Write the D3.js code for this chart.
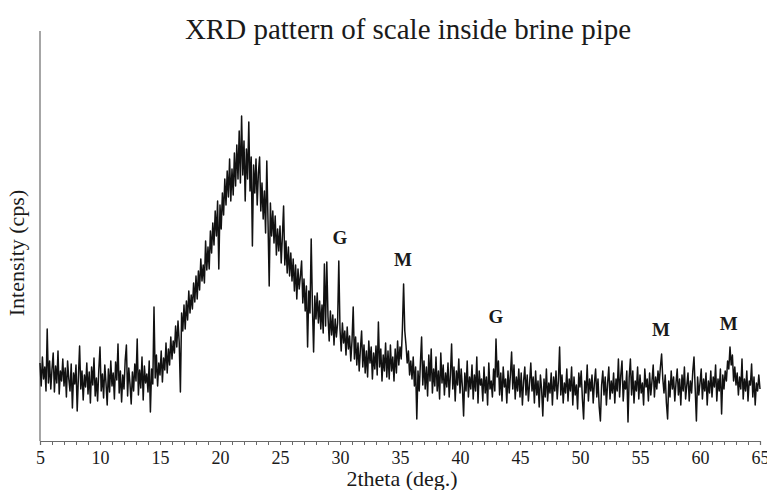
<!DOCTYPE html>
<html>
<head>
<meta charset="utf-8">
<script src="https://cdn.jsdelivr.net/npm/d3@7"></script>
<style>
  body { margin: 0; background: #fff; }
  svg { display: block; }
</style>
</head>
<body>
<svg id="chart"></svg>
<script>
// scan starts at 5 deg, 0.1 deg per reading
const startAngle = 5;
const stepAngle = 0.1;

// intensity readings (cps, arbitrary zero), 10 per degree
const intensity = [
  78, 55, 84, 62, 74, 50, 112, 58, 80, 52,
  72, 88, 49, 75, 58, 90, 47, 70, 60, 82,
  55, 73, 44, 80, 62, 50, 77, 33, 68, 57,
  76, 30, 64, 95, 52, 70, 41, 66, 54, 78,
  47, 69, 38, 74, 56, 83, 45, 63, 40, 71,
  94, 50, 67, 43, 76, 58, 36, 72, 49, 80,
  55, 68, 42, 79, 61, 97, 48, 70, 39, 66,
  52, 81, 96, 45, 73, 57, 37, 69, 50, 77,
  60, 102, 46, 71, 53, 84, 41, 75, 58, 67,
  49, 80, 29, 72, 57, 134, 63, 86, 55, 78,
  66, 90, 59, 83, 71, 98, 68, 92, 76, 104,
  82, 100, 88, 115, 94, 120, 99, 49, 128, 110,
  136, 112, 140, 121, 150, 128, 146, 132, 158, 139,
  165, 142, 170, 151, 182, 160, 176, 158, 200, 171,
  194, 172, 210, 188, 218, 196, 230, 205, 240, 172,
  236, 212, 248, 226, 262, 236, 270, 244, 282, 240,
  272, 246, 288, 255, 296, 262, 310, 258, 325, 266,
  300, 240, 292, 262, 319, 250, 284, 195, 276, 248,
  282, 236, 268, 284, 230, 258, 222, 250, 208, 280,
  220, 155, 238, 205, 230, 198, 225, 186, 212, 190,
  215, 178, 205, 235, 176, 200, 168, 194, 165, 188,
  160, 182, 150, 176, 142, 172, 152, 165, 180, 138,
  162, 130, 155, 94, 150, 128, 202, 136, 89, 145,
  122, 148, 118, 140, 112, 136, 108, 177, 115, 179,
  124, 100, 130, 106, 126, 96, 122, 104, 118, 180,
  112, 90, 118, 98, 110, 86, 114, 92, 105, 80,
  100, 134, 82, 104, 76, 98, 70, 92, 110, 74,
  96, 68, 90, 64, 100, 78, 94, 62, 88, 72,
  95, 66, 119, 74, 92, 60, 86, 70, 98, 64,
  90, 62, 96, 70, 84, 60, 92, 68, 100, 76,
  94, 82, 112, 157, 110, 96, 78, 90, 66, 80,
  62, 84, 55, 74, 22, 70, 50, 78, 104, 56,
  80, 52, 74, 45, 86, 60, 92, 48, 72, 55,
  84, 50, 70, 42, 88, 58, 76, 46, 68, 54,
  78, 44, 66, 97, 52, 74, 40, 70, 56, 82,
  48, 72, 54, 25, 68, 50, 80, 44, 64, 52,
  76, 42, 66, 50, 84, 38, 70, 56, 62, 40,
  74, 48, 64, 36, 78, 52, 60, 44, 72, 50,
  102, 64, 80, 46, 68, 40, 74, 54, 62, 38,
  70, 48, 66, 89, 52, 76, 42, 64, 50, 72,
  44, 68, 36, 60, 74, 46, 66, 40, 58, 78,
  50, 64, 38, 70, 46, 60, 34, 66, 52, 25,
  62, 44, 72, 40, 58, 48, 68, 36, 64, 50,
  70, 42, 60, 94, 46, 66, 38, 58, 48, 72,
  40, 62, 50, 74, 36, 64, 46, 56, 32, 68,
  54, 70, 42, 22, 60, 48, 76, 40, 62, 50,
  66, 38, 58, 72, 44, 62, 34, 20, 56, 70,
  46, 64, 36, 58, 74, 42, 60, 48, 68, 38,
  62, 50, 82, 44, 66, 80, 40, 60, 52, 70,
  19, 64, 82, 46, 70, 38, 60, 50, 74, 42,
  66, 48, 58, 36, 72, 54, 62, 40, 68, 46,
  60, 76, 44, 64, 52, 70, 58, 74, 87, 62,
  48, 66, 38, 22, 60, 44, 70, 52, 64, 40,
  58, 72, 46, 62, 36, 66, 50, 74, 42, 56,
  68, 40, 60, 48, 70, 84, 52, 20, 64, 46,
  58, 72, 42, 62, 50, 68, 36, 60, 48, 70,
  44, 64, 54, 76, 40, 62, 50, 72, 27, 66,
  52, 70, 60, 80, 72, 94, 76, 86, 60, 74,
  56, 68, 46, 64, 52, 82, 42, 62, 50, 70,
  40, 60, 56, 77, 44, 64, 36, 58, 50, 66,
  52
];

// phase markers: G = gypsum, M = magnetite
const peakNames = ['G', 'M', 'G', 'M', 'M'];
const peakAngles = [30.0, 35.25, 43.0, 56.75, 62.4];
const peakLabelLevels = [197, 175, 118, 105, 111];

const xTickLabels = [5, 10, 15, 20, 25, 30, 35, 40, 45, 50, 55, 60, 65];
const xMinorTicks = d3.range(5, 66, 1);

const width = 767;
const height = 490;

const svg = d3.select('#chart')
  .attr('width', width)
  .attr('height', height);

const x = d3.scaleLinear().domain([5, 65]).range([40, 760]);
const y = d3.scaleLinear().domain([0, 410]).range([441, 31]);

const serif = 'Liberation Serif, Times New Roman, serif';
const axisColor = '#6a6a6a';

const scan = intensity.map((v, i) => ({ angle: startAngle + i * stepAngle, cps: v }));

// title
svg.append('text')
  .attr('x', 408)
  .attr('y', 39)
  .attr('text-anchor', 'middle')
  .attr('font-family', serif)
  .attr('font-size', 29)
  .attr('fill', '#1a1a1a')
  .text('XRD pattern of scale inside brine pipe');

// y axis: a bare line, no ticks
svg.append('line')
  .attr('x1', x(5))
  .attr('x2', x(5))
  .attr('y1', y(410))
  .attr('y2', y(0))
  .attr('stroke', axisColor)
  .attr('stroke-width', 1.2);

svg.append('text')
  .attr('transform', `translate(24, ${ y(188) }) rotate(-90)`)
  .attr('text-anchor', 'middle')
  .attr('font-family', serif)
  .attr('font-size', 22)
  .attr('fill', '#1a1a1a')
  .text('Intensity (cps)');

// x axis: minor tick every degree, label every 5
const xAxis = d3.axisBottom(x)
  .tickValues(xMinorTicks)
  .tickSize(4)
  .tickPadding(6)
  .tickFormat((d) => xTickLabels.includes(d) ? d : '');

const gx = svg.append('g')
  .attr('transform', `translate(0, ${ y(0) })`)
  .attr('font-family', serif)
  .call(xAxis);

gx.select('.domain')
  .attr('stroke', axisColor)
  .attr('stroke-width', 1.2);

gx.selectAll('.tick line')
  .attr('stroke', axisColor);

gx.selectAll('.tick text')
  .attr('font-family', serif)
  .attr('font-size', 18)
  .attr('fill', '#1a1a1a');

svg.append('text')
  .attr('x', 402)
  .attr('y', 486)
  .attr('text-anchor', 'middle')
  .attr('font-family', serif)
  .attr('font-size', 22)
  .attr('fill', '#1a1a1a')
  .text('2theta (deg.)');

// the scan itself
const line = d3.line()
  .x((d) => x(d.angle))
  .y((d) => y(d.cps));

svg.append('path')
  .datum(scan)
  .attr('fill', 'none')
  .attr('stroke', '#111')
  .attr('stroke-width', 1.5)
  .attr('stroke-linejoin', 'round')
  .attr('d', line);

// peak labels
svg.append('g')
  .selectAll('text')
  .data(peakNames)
  .enter()
    .append('text')
    .attr('x', (d, i) => x(peakAngles[i]))
    .attr('y', (d, i) => y(peakLabelLevels[i]))
    .attr('text-anchor', 'middle')
    .attr('font-family', serif)
    .attr('font-weight', 'bold')
    .attr('font-size', 19)
    .attr('fill', '#1a1a1a')
    .text((d) => d);
</script>
</body>
</html>
